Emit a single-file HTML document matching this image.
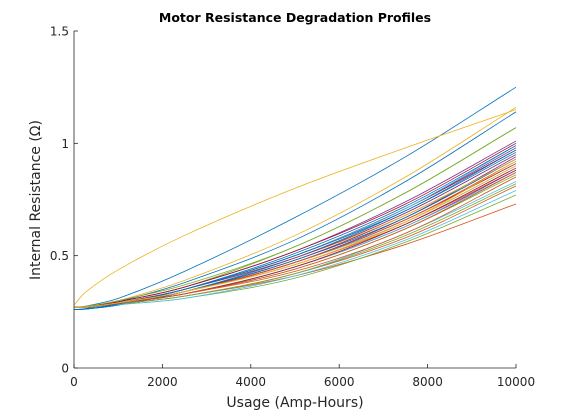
<!DOCTYPE html>
<html><head><meta charset="utf-8"><style>
body{margin:0;background:#fff;width:570px;height:413px;overflow:hidden}
svg{font-family:"DejaVu Sans","Liberation Sans",sans-serif}
</style></head><body>
<svg id="c" width="570" height="413">
<text x="295" y="22" text-anchor="middle" font-weight="bold" font-size="12.5">Motor Resistance Degradation Profiles</text>
<g id="plot"></g>
<g id="axes"></g>
<text x="295" y="407" text-anchor="middle" font-size="14" fill="#262626">Usage (Amp-Hours)</text>
<text transform="translate(40,200) rotate(-90)" text-anchor="middle" font-size="14" fill="#262626">Internal Resistance (Ω)</text>
</svg>
<script>
const xSamples=[0,250,1000,2500,5000,7500,10000];
const xTicks=[0,2000,4000,6000,8000,10000];
const yTicks=[0,0.5,1,1.5];
const yTickLabels=["0","0.5","1","1.5"];
const curves=[
[0.27,0.275,0.31,0.43,0.67,0.94,1.25],[0.27,0.27,0.285,0.32,0.41,0.55,0.73],[0.28,0.336,0.437,0.59,0.80,0.98,1.15],[0.27,0.272,0.29,0.35,0.50,0.71,0.98],
[0.27,0.272,0.295,0.36,0.54,0.78,1.07],[0.27,0.271,0.29,0.34,0.47,0.65,0.90],[0.27,0.271,0.29,0.34,0.48,0.68,0.93],[0.26,0.264,0.295,0.38,0.57,0.83,1.14],
[0.27,0.271,0.29,0.34,0.46,0.64,0.88],[0.27,0.274,0.30,0.39,0.59,0.85,1.16],[0.27,0.271,0.29,0.34,0.47,0.67,0.94],[0.27,0.27,0.282,0.31,0.40,0.56,0.77],
[0.27,0.27,0.285,0.32,0.42,0.60,0.83],[0.27,0.272,0.29,0.35,0.50,0.71,0.97],[0.26,0.262,0.28,0.34,0.49,0.70,0.97],[0.27,0.27,0.285,0.32,0.42,0.58,0.81],
[0.27,0.272,0.29,0.35,0.49,0.69,0.95],[0.27,0.272,0.295,0.36,0.52,0.74,1.01],[0.27,0.271,0.288,0.33,0.44,0.62,0.86],[0.27,0.272,0.29,0.35,0.50,0.71,0.99],
[0.27,0.271,0.29,0.34,0.47,0.66,0.91],[0.26,0.262,0.28,0.34,0.48,0.67,0.93],[0.27,0.271,0.288,0.33,0.43,0.60,0.85],[0.27,0.272,0.29,0.35,0.49,0.68,0.93],
[0.27,0.272,0.29,0.35,0.49,0.69,0.95],[0.27,0.27,0.285,0.32,0.42,0.59,0.82],[0.27,0.27,0.282,0.31,0.41,0.57,0.79],[0.27,0.272,0.295,0.36,0.52,0.73,1.00],
[0.26,0.262,0.285,0.35,0.51,0.72,0.99],[0.27,0.271,0.29,0.34,0.47,0.66,0.92],[0.27,0.271,0.29,0.34,0.46,0.65,0.90],[0.27,0.271,0.288,0.33,0.45,0.63,0.88],
[0.27,0.273,0.30,0.37,0.54,0.78,1.07],[0.27,0.271,0.288,0.33,0.45,0.63,0.87],[0.27,0.271,0.288,0.33,0.45,0.64,0.89],[0.26,0.262,0.285,0.35,0.50,0.70,0.96],
[0.27,0.271,0.288,0.33,0.44,0.62,0.87],[0.27,0.271,0.29,0.34,0.46,0.65,0.92]
];
const colors=["#0072BD","#D95319","#EDB120","#7E2F8E","#77AC30","#4DBEEE","#A2142F"];
const X0=74,X1=516,Y0=368,Y1=31;
const xs=v=>X0+(v-0)/10000*(X1-X0);
const ys=v=>Y0-(v/1.5)*(Y0-Y1);
const NS="http://www.w3.org/2000/svg";
const plot=document.getElementById('plot'),axes=document.getElementById('axes');
curves.forEach((c,i)=>{
  const p=c.map((v,j)=>[xs(xSamples[j]),ys(v)]);
  const n=p.length,m=[];
  for(let k=0;k<n;k++){
    if(k===0)m.push((p[1][1]-p[0][1])/(p[1][0]-p[0][0]));
    else if(k===n-1)m.push((p[k][1]-p[k-1][1])/(p[k][0]-p[k-1][0]));
    else m.push((p[k+1][1]-p[k-1][1])/(p[k+1][0]-p[k-1][0]));
  }
  let d="M"+p[0][0]+","+p[0][1];
  for(let k=0;k<n-1;k++){
    const b=p[k],q=p[k+1],h=q[0]-b[0];
    d+=` C${b[0]+h/3},${b[1]+m[k]*h/3} ${q[0]-h/3},${q[1]-m[k+1]*h/3} ${q[0]},${q[1]}`;
  }
  const el=document.createElementNS(NS,'path');
  el.setAttribute('d',d);el.setAttribute('fill','none');
  el.setAttribute('stroke',colors[i%7]);el.setAttribute('stroke-width','0.8');
  
  
  plot.appendChild(el);
});
function ln(x1,y1,x2,y2){const l=document.createElementNS(NS,'line');l.setAttribute('x1',x1);l.setAttribute('y1',y1);l.setAttribute('x2',x2);l.setAttribute('y2',y2);l.setAttribute('stroke','#262626');l.setAttribute('stroke-width','0.8');axes.appendChild(l);return l;}
function tx(x,y,s,anc){const t=document.createElementNS(NS,'text');t.setAttribute('x',x);t.setAttribute('y',y);t.setAttribute('text-anchor',anc);t.setAttribute('font-size','12');t.setAttribute('fill','#262626');t.textContent=s;axes.appendChild(t);return t;}
ln(X0,Y0,X1,Y0);ln(X0,Y0,X0,Y1);
xTicks.forEach(v=>{ln(xs(v),Y0,xs(v),Y0-4);
  const t=tx(xs(v),386,String(v),'middle');
  
  });
yTicks.forEach((v,i)=>{ln(X0,ys(v),X0+4,ys(v));
  const t=tx(X0-5,ys(v)+4.5,yTickLabels[i],'end');
  
  });
</script>
</body></html>
